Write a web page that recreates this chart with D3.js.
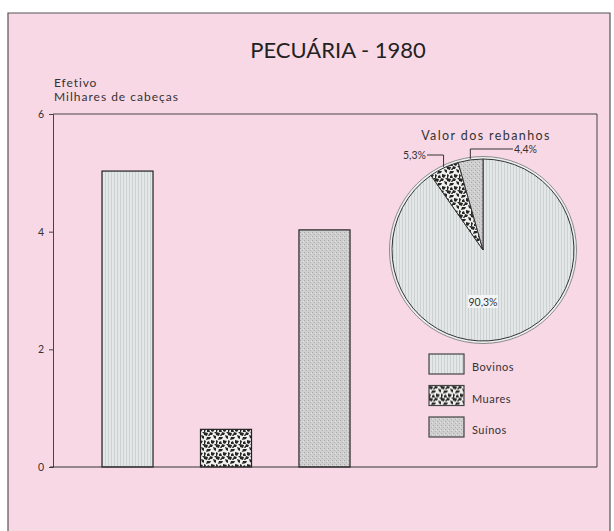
<!DOCTYPE html>
<html>
<head>
<meta charset="utf-8">
<script src="https://cdn.jsdelivr.net/npm/d3@7"></script>
<style>
  body { margin: 0; background: #ffffff; }
  svg { display: block; font-family: Lato, "Open Sans", sans-serif; }
</style>
</head>
<body>
<svg id="chart" width="614" height="531"></svg>
<script>
// data
var categories = ["Bovinos", "Muares", "Suínos"];
var efetivo = [5.03, 0.64, 4.03];          // milhares de cabeças
var valorPct = [90.3, 5.3, 4.4];            // % valor dos rebanhos
var valorLabels = ["90,3%", "5,3%", "4,4%"];
var yTicks = [0, 2, 4, 6];

var svg = d3.select("#chart");

// ---- patterns
var defs = svg.append("defs");

var pBov = defs.append("pattern").attr("id", "pat-bov")
    .attr("patternUnits", "userSpaceOnUse").attr("width", 3).attr("height", 3);
pBov.append("rect").attr("width", 3).attr("height", 3).attr("fill", "#e3e7e7");
pBov.append("line").attr("x1", 0.5).attr("y1", 0).attr("x2", 0.5).attr("y2", 3)
    .attr("stroke", "#c2c7c7").attr("stroke-width", 0.7);

var pMua = defs.append("pattern").attr("id", "pat-mua")
    .attr("patternUnits", "userSpaceOnUse").attr("width", 12).attr("height", 12);
pMua.append("rect").attr("width", 12).attr("height", 12).attr("fill", "#f0f0ee");
pMua.append("path").attr("fill", "#262626")
    .attr("d", "M0,0 l4,1 l-1,3 l-3,-1 z M6,0 l3,1 l-1,2 l-3,0 z M9,3 l3,1 l0,3 l-2,-1 z " +
               "M3,5 l4,0 l-1,2 l-4,1 z M0,8 l2,1 l-1,3 l-1,0 z M7,8 l4,1 l-2,3 l-2,-1 z " +
               "M5,2 l1,2 l-2,0 z M3,10 l2,-1 l1,3 l-3,0 z M10,0 l2,0 l0,2 z");

var pSui = defs.append("pattern").attr("id", "pat-sui")
    .attr("patternUnits", "userSpaceOnUse").attr("width", 4).attr("height", 4);
pSui.append("rect").attr("width", 4).attr("height", 4).attr("fill", "#cfcfcf");
pSui.append("rect").attr("x", 0).attr("y", 0).attr("width", 1).attr("height", 1).attr("fill", "#a8a8a8");
pSui.append("rect").attr("x", 2).attr("y", 2).attr("width", 1).attr("height", 1).attr("fill", "#b2b2b2");
pSui.append("rect").attr("x", 3).attr("y", 1).attr("width", 1).attr("height", 1).attr("fill", "#e2e2e2");

var fills = ["url(#pat-bov)", "url(#pat-mua)", "url(#pat-sui)"];

// ---- background panel
svg.append("rect").attr("x", 8).attr("y", 13).attr("width", 602).attr("height", 530)
    .attr("fill", "#f9d8e6");
svg.append("path").attr("d", "M8,531 V13 H610 V531")
    .attr("fill", "none").attr("stroke", "#555").attr("stroke-width", 1.2);

// ---- title
svg.append("text").attr("x", 338).attr("y", 58).attr("text-anchor", "middle")
    .attr("font-size", 22).attr("fill", "#222").text("PECUÁRIA - 1980");

svg.append("text").attr("x", 54).attr("y", 87)
    .attr("font-size", 12).attr("letter-spacing", 0.9).attr("fill", "#333").text("Efetivo");
svg.append("text").attr("x", 54).attr("y", 101)
    .attr("font-size", 12).attr("letter-spacing", 1).attr("fill", "#333").text("Milhares de cabeças");

// ---- bar chart
var plot = { left: 53, right: 597, top: 114, bottom: 467 };

var y = d3.scaleLinear().domain([0, 6]).range([plot.bottom, plot.top]);
var x = d3.scaleBand().domain(categories).range([102, 350]).paddingInner(0.482).paddingOuter(0);

// plot box
svg.append("path")
    .attr("d", "M" + plot.left + "," + plot.top + " H" + plot.right + " V" + plot.bottom)
    .attr("fill", "none").attr("stroke", "#444").attr("stroke-width", 1);

svg.selectAll("rect.bar").data(categories).enter().append("rect")
    .attr("class", "bar")
    .attr("x", function (d) { return x(d); })
    .attr("y", function (d, i) { return y(efetivo[i]); })
    .attr("width", x.bandwidth())
    .attr("height", function (d, i) { return y(0) - y(efetivo[i]); })
    .attr("fill", function (d, i) { return fills[i]; })
    .attr("stroke", "#222").attr("stroke-width", 1.2);

var yAxis = svg.append("g").attr("transform", "translate(" + plot.left + ",0)")
    .call(d3.axisLeft(y).tickValues(yTicks).tickFormat(d3.format("d")).tickSize(4).tickPadding(5));
yAxis.select(".domain").attr("stroke", "#444");
yAxis.selectAll(".tick line").attr("stroke", "#444");
yAxis.selectAll(".tick text").attr("font-size", 10.5).attr("fill", "#333")
    .attr("font-family", "Lato, sans-serif");

// x axis baseline
svg.append("line").attr("x1", plot.left - 3).attr("x2", plot.right)
    .attr("y1", y(0)).attr("y2", y(0)).attr("stroke", "#333").attr("stroke-width", 1.2);

// ---- pie
var cx = 483, cy = 250, r = 91;
var pie = d3.pie().sort(null).value(function (d) { return d; });
var arcs = pie(valorPct);
var arc = d3.arc().innerRadius(0).outerRadius(r);

var g = svg.append("g").attr("transform", "translate(" + cx + "," + cy + ")");
g.append("circle").attr("r", r + 2.5).attr("fill", "#eef0f0")
    .attr("stroke", "#8a8a8a").attr("stroke-width", 1);
g.selectAll("path.slice").data(arcs).enter().append("path")
    .attr("class", "slice")
    .attr("d", arc)
    .attr("fill", function (d, i) { return fills[i]; })
    .attr("stroke", "#333").attr("stroke-width", 1);

svg.append("text").attr("x", 486).attr("y", 140).attr("text-anchor", "middle")
    .attr("font-size", 12.5).attr("letter-spacing", 1.4).attr("fill", "#333").text("Valor dos rebanhos");

// big slice label
var lbl = g.append("g").attr("transform", "translate(0,52)");
lbl.append("rect").attr("x", -15).attr("y", -7).attr("width", 30).attr("height", 13)
    .attr("fill", "#f4f6f6");
lbl.append("text").attr("text-anchor", "middle").attr("y", 4)
    .attr("font-size", 10.5).attr("fill", "#333").text(valorLabels[0]);

// leader labels for small slices
function leader(a, levelY, endX, anchor, label) {
    var mid = (a.startAngle + a.endAngle) / 2;
    var px = Math.sin(mid) * (r + 1), py = -Math.cos(mid) * (r + 1);
    g.append("path")
        .attr("d", "M" + px + "," + py + " V" + levelY + " H" + endX)
        .attr("fill", "none").attr("stroke", "#333").attr("stroke-width", 1);
    g.append("text").attr("x", endX + (anchor === "end" ? -1 : 1)).attr("y", levelY + 4)
        .attr("text-anchor", anchor).attr("font-size", 10.5).attr("fill", "#333").text(label);
}
leader(arcs[1], -95, -56, "end", valorLabels[1]);
leader(arcs[2], -101, 30, "start", valorLabels[2]);

// ---- legend
var legend = svg.append("g").attr("transform", "translate(429,354)");
var items = legend.selectAll("g").data(categories).enter().append("g")
    .attr("transform", function (d, i) { return "translate(0," + (i * 31.5) + ")"; });
items.append("rect").attr("width", 35).attr("height", 20)
    .attr("fill", function (d, i) { return fills[i]; })
    .attr("stroke", "#444").attr("stroke-width", 1.2);
items.append("text").attr("x", 43).attr("y", 17)
    .attr("font-size", 11).attr("letter-spacing", 0.5).attr("fill", "#333").text(function (d) { return d; });
</script>
</body>
</html>
